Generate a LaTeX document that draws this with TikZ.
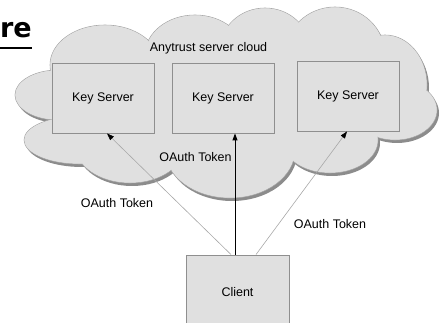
\documentclass[tikz,border=0pt]{standalone}
\usepackage{fontspec}
\setmainfont{Liberation Sans}
\newfontfamily\titlefont{DejaVu Sans}
\usetikzlibrary{arrows.meta,calc}
\definecolor{cloudfill}{HTML}{E0E0E0}
\definecolor{cloudline}{HTML}{A8A8A8}
\definecolor{cloudshadow}{HTML}{8C8C8C}
\definecolor{boxline}{HTML}{8F8F8F}
\definecolor{tokline}{HTML}{A8A8A8}
\begin{document}
\begin{tikzpicture}[x=1pt,y=-1pt,
  serverbox/.style={draw=boxline,fill=cloudfill,line width=0.9pt,minimum width=102pt,minimum height=70pt,inner sep=0pt,font=\fontsize{12.5}{15}\selectfont},
  lbl/.style={font=\fontsize{12.5}{15}\selectfont,inner sep=0pt},
  tokarrow/.style={draw=tokline,line width=0.6pt,-{Triangle[length=7pt,width=5pt,color=black]}},
  mainarrow/.style={draw=black,line width=1pt,-{Triangle[length=7pt,width=5pt,color=black]}}]
\useasboundingbox (0,0) rectangle (440,323);
\clip (0,0) rectangle (440,323);
\def\cloudlist{105/65/55/40, 195/55/50/40, 265/50/45/42, 335/55/50/48, 385/85/42/50, 395/110/42/30, 330/140/48/33, 230/150/65/48, 130/145/55/38, 80/140/56/24, 58/95/43/25, 230/100/150/60}
% shadow
\foreach \cx/\cy/\rx/\ry in \cloudlist {
  \fill[cloudshadow] (\cx+2,\cy+3) ellipse [x radius=\rx pt, y radius=\ry pt];
}
% outlines
\foreach \cx/\cy/\rx/\ry in \cloudlist {
  \filldraw[fill=cloudfill,draw=cloudline,line width=0.6pt] (\cx,\cy) ellipse [x radius=\rx pt, y radius=\ry pt];
}
% interior
\foreach \cx/\cy/\rx/\ry in \cloudlist {
  \fill[cloudfill] (\cx,\cy) ellipse [x radius=\rx pt-0.5pt, y radius=\ry pt-0.5pt];
}
% title fragment
\node[anchor=base east,inner sep=0pt,font=\titlefont\bfseries\fontsize{27}{32}\selectfont] (title) at (32,37.5) {re};
\draw[line width=2.4pt] (0,48) -- (title.east |- 0,48);
% labels and boxes
\node[lbl] (cloudlbl) at (208.5,48) {Anytrust server cloud};
\node[serverbox] (ks1) at (103,98) {Key Server};
\node[serverbox] (ks2) at (223,98) {Key Server};
\node[serverbox] (ks3) at (348,96) {Key Server};
\node[serverbox,minimum width=103pt,minimum height=74pt] (cl) at (237.5,292) {Client};
% arrows
\draw[tokarrow] ($(cl.north)+(-6.5,0)$) -- ($(ks1.south)+(4,0)$);
\draw[mainarrow] ($(cl.north)+(-2.5,0)$) -- (ks2.south -| 235,0);
\draw[tokarrow] ($(cl.north)+(18.5,0)$) -- ($(ks3.south)+(-1,0)$);
% token labels
\node[lbl] (tokm) at (195.5,157) {OAuth Token};
\node[lbl] (tokl) at (117,203) {OAuth Token};
\node[lbl] (tokr) at (330,224) {OAuth Token};
\end{tikzpicture}
\end{document}
